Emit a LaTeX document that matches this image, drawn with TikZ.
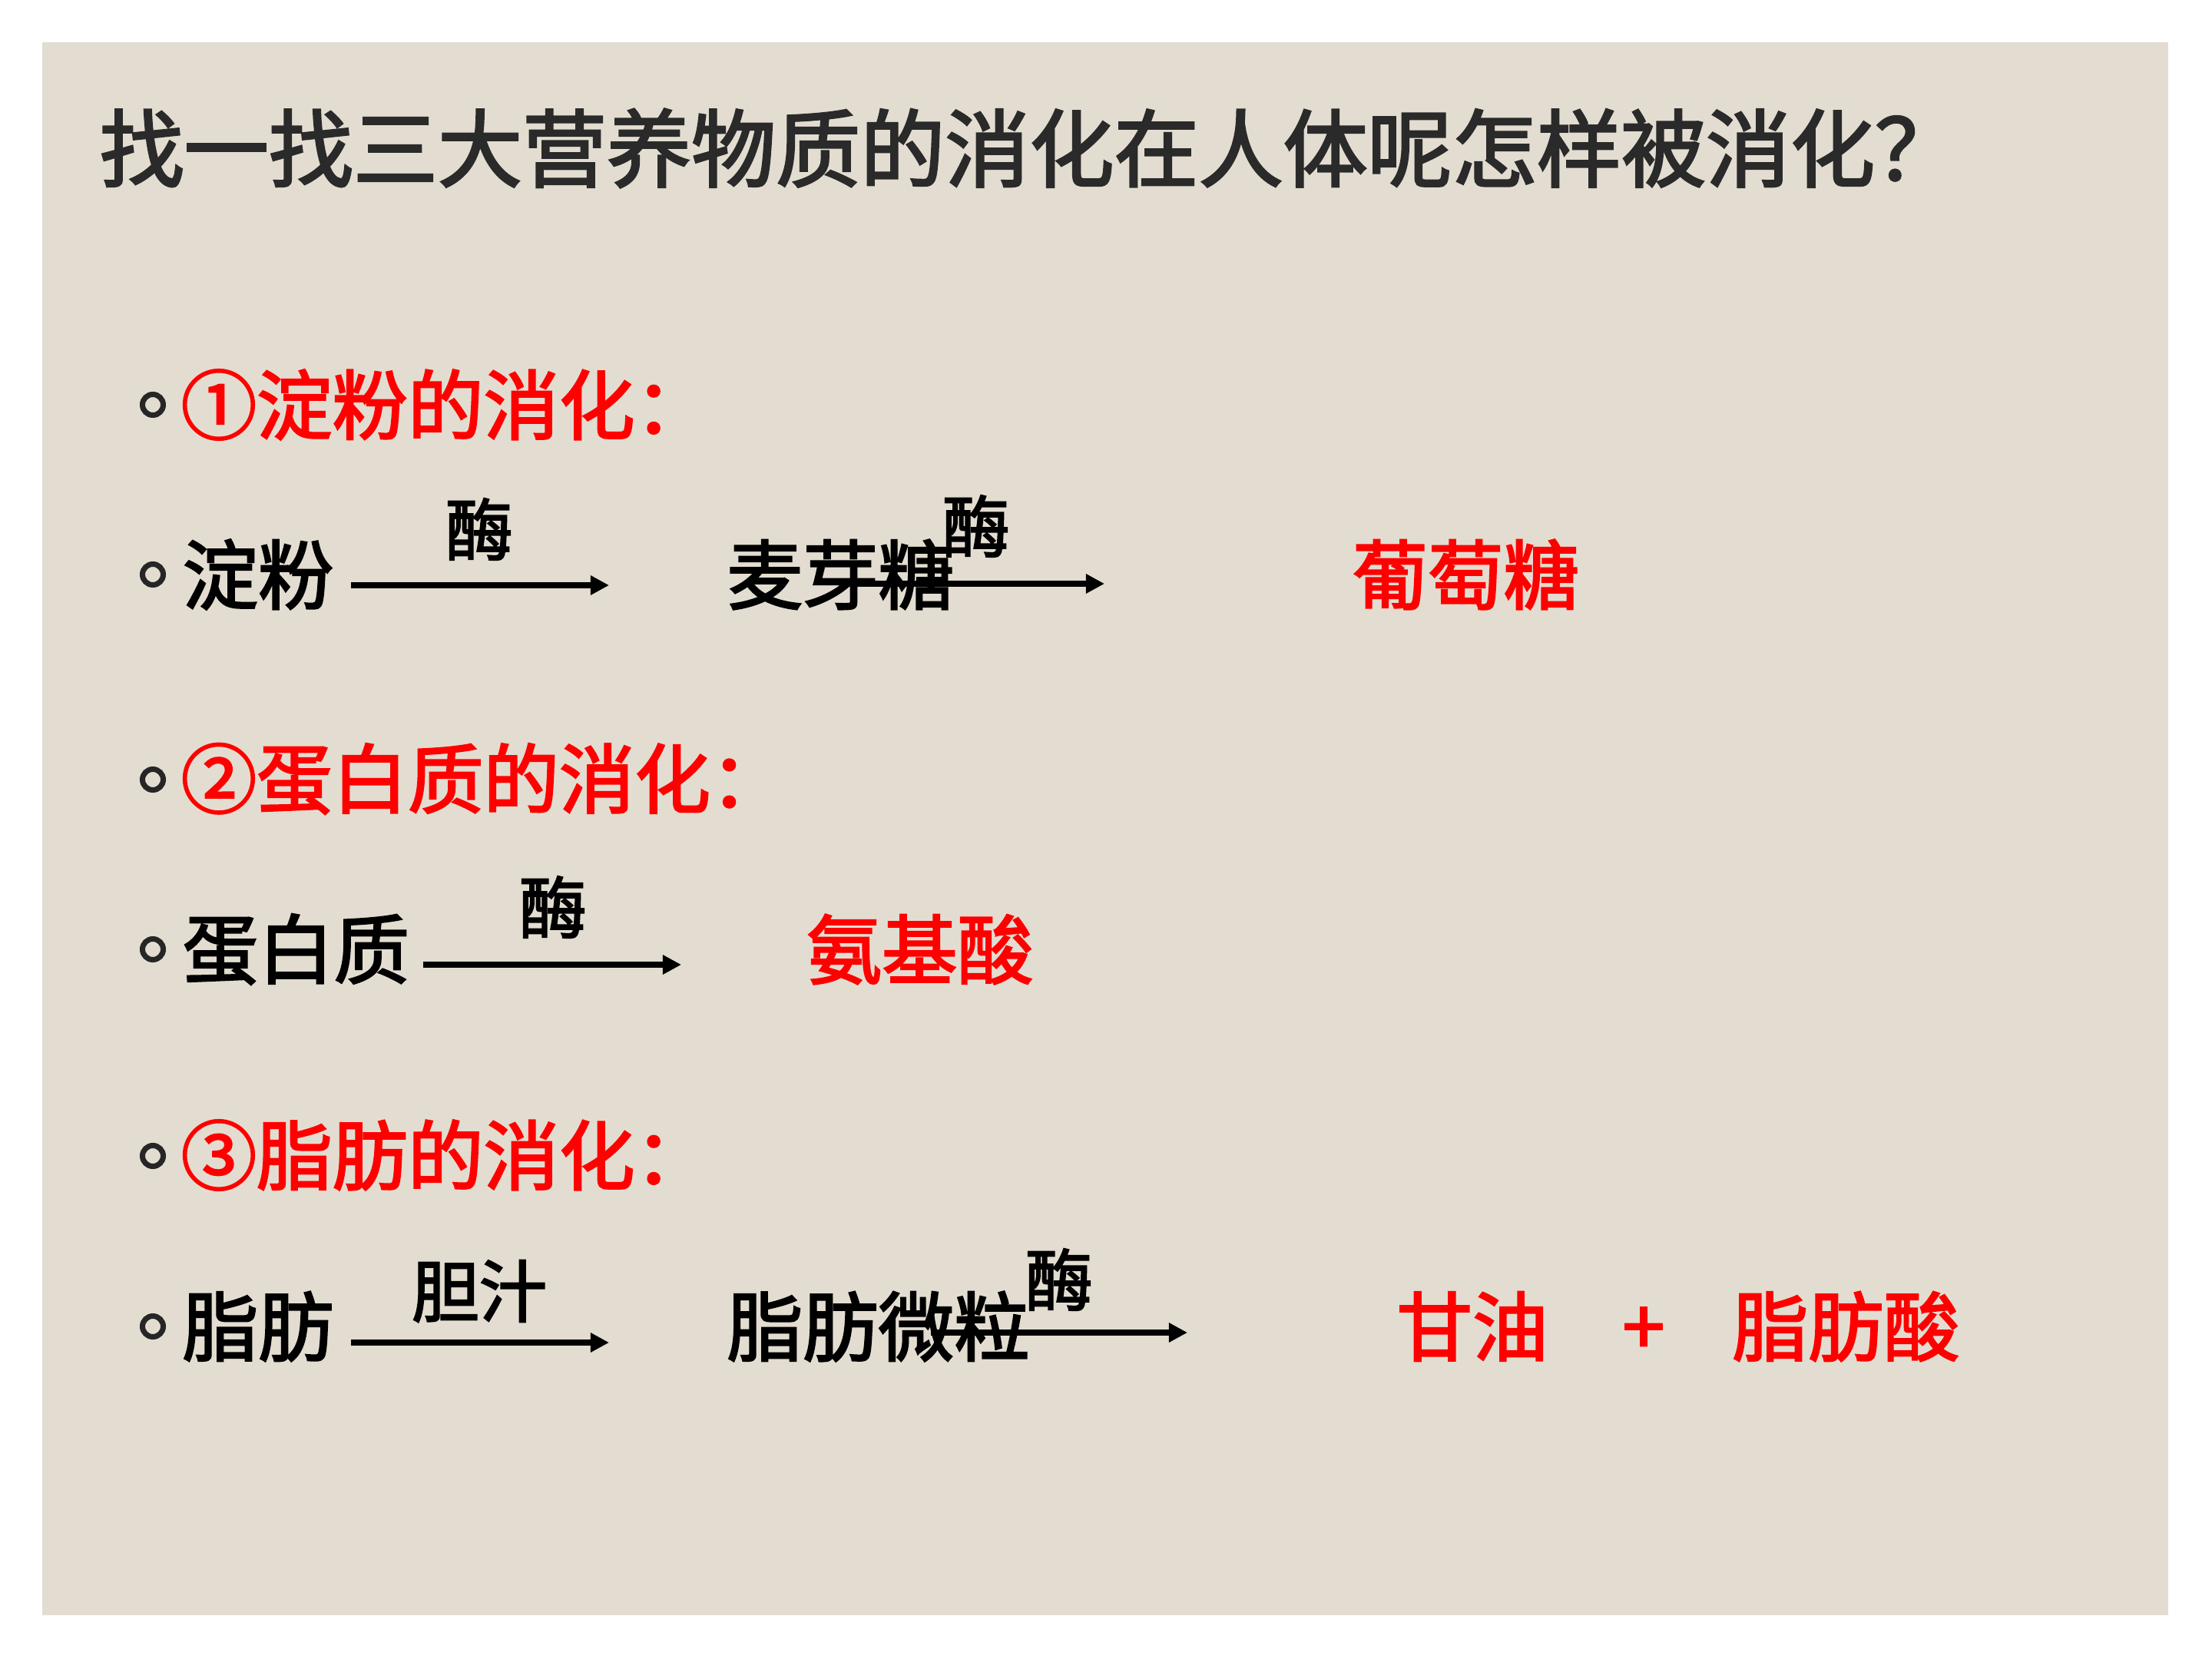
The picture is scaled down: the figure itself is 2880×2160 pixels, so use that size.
\documentclass[tikz,border=0pt]{standalone}
\usepackage{fontspec}
\usepackage{xcolor}
\usepackage{tikz}
\usetikzlibrary{arrows.meta}
\setmainfont{Noto Sans CJK SC}[FakeBold=2.5]
\definecolor{SlideBg}{HTML}{E3DDD1}
\definecolor{TitleGray}{HTML}{2A2A2A}
\definecolor{KeyRed}{HTML}{FF0000}

\begin{document}
\begin{tikzpicture}[
    x=0.01cm, y=-0.01cm,
    title/.style={anchor=west, inner sep=0pt, text=TitleGray, font=\fontsize{31.3}{34}\selectfont},
    item/.style={anchor=west, inner sep=0pt, font=\fontsize{28}{30}\selectfont},
    heading/.style={item, text=KeyRed},
    result/.style={item, text=KeyRed},
    enzyme/.style={inner sep=0pt, font=\fontsize{25}{27}\selectfont},
    bullet/.style={circle, draw=black!85, line width=2pt, minimum size=0.27cm, inner sep=0pt},
    arrow/.style={-{Triangle[length=2.4mm, width=2.4mm]}, line width=2.1pt}
]
    % slide
    \useasboundingbox (0,0) rectangle (2880,2160);
    \fill[SlideBg] (55,55) rectangle (2823,2103);

    \node[title] (title) at (129,193) {找一找三大营养物质的消化在人体呢怎样被消化？};

    % bullets
    \node[bullet] (b1) at (199,527) {};
    \node[bullet] (b2) at (199,748) {};
    \node[bullet] (b3) at (199,1015) {};
    \node[bullet] (b4) at (199,1236) {};
    \node[bullet] (b5) at (199,1505) {};
    \node[bullet] (b6) at (199,1727) {};

    % starch
    \node[heading] (h1) at (235,527) {①淀粉的消化：};
    \node[item] (starch) at (237,748) {淀粉};
    \node[item] (maltose) at (946,748) {麦芽糖};
    \node[result] (glucose) at (1760,748) {葡萄糖};
    \node[enzyme] (enz1) at (624,689) {酶};
    \node[enzyme] (enz2) at (1271,685) {酶};
    \coordinate (s1) at (457,762);
    \coordinate (e1) at (793,762);
    \coordinate (s2) at (1102,760);
    \coordinate (e2) at (1438,760);

    % protein
    \node[heading] (h2) at (235,1014) {②蛋白质的消化：};
    \node[item] (protein) at (237,1236) {蛋白质};
    \node[result] (amino) at (1049,1236) {氨基酸};
    \node[enzyme] (enz3) at (720,1181) {酶};
    \coordinate (s3) at (551,1256);
    \coordinate (e3) at (887,1256);

    % fat
    \node[heading] (h3) at (235,1504) {③脂肪的消化：};
    \node[item] (fat) at (237,1727) {脂肪};
    \node[item] (droplet) at (946,1727) {脂肪微粒};
    \node[result] (glycerol) at (1818,1727) {甘油};
    \node[text=KeyRed, inner sep=0pt, font=\fontsize{28}{30}\selectfont] (plus) at (2140,1733) {+};
    \node[result] (acid) at (2255,1727) {脂肪酸};
    \node[enzyme] (bile) at (624,1681) {胆汁};
    \node[enzyme] (enz4) at (1379,1666) {酶};
    \coordinate (s4) at (457,1748);
    \coordinate (e4) at (793,1748);
    \coordinate (s5) at (1212,1735);
    \coordinate (e5) at (1546,1735);

    \draw[arrow] (s1) -- (e1);
    \draw[arrow] (s2) -- (e2);
    \draw[arrow] (s3) -- (e3);
    \draw[arrow] (s4) -- (e4);
    \draw[arrow] (s5) -- (e5);
\end{tikzpicture}
\end{document}
